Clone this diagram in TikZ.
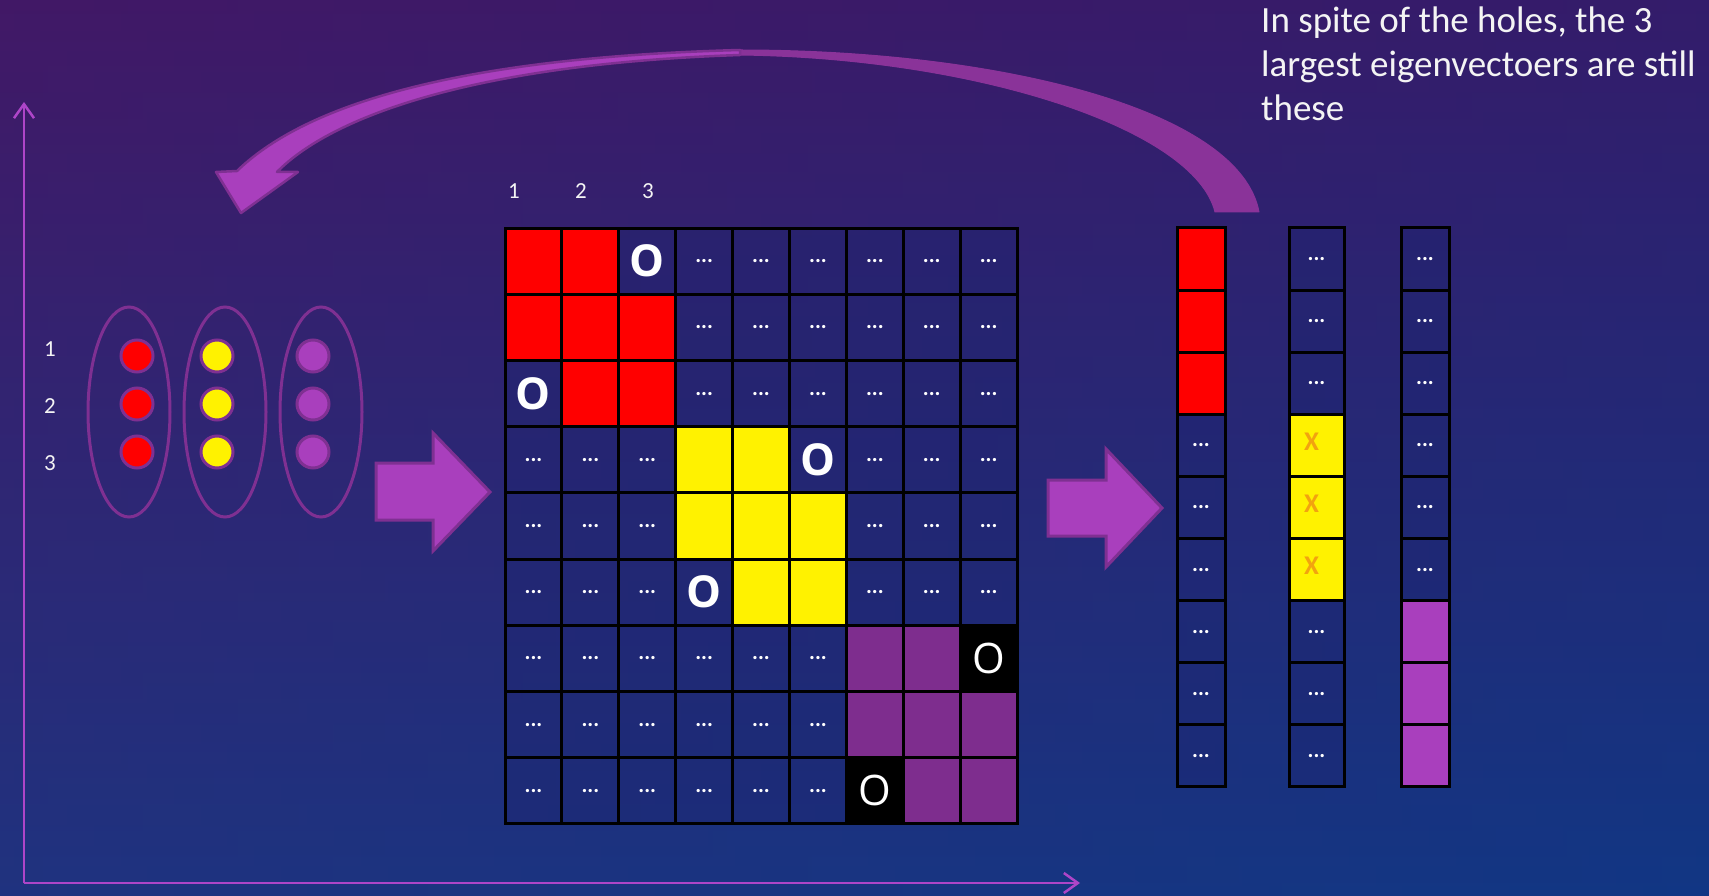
\documentclass[tikz,border=0pt]{standalone}
\usepackage{fontspec}
\setmainfont{Carlito}
\newfontfamily\ofont{Open Sans}
\newfontfamily\obfont{Open Sans Bold}
\usetikzlibrary{arrows.meta,shapes.geometric}
\definecolor{bgtop}{HTML}{3B1864}
\definecolor{bgmid}{HTML}{28236F}
\definecolor{bgbot}{HTML}{0F3A84}
\definecolor{bgleft}{HTML}{5A1A70}
\definecolor{bgright}{HTML}{1A2C84}
\definecolor{navyc}{HTML}{1C2470}
\definecolor{gpur}{HTML}{7E2D8E}
\definecolor{lpur}{HTML}{A93FBD}
\definecolor{dpur}{HTML}{7F3092}
\definecolor{backpur}{HTML}{8A3399}
\definecolor{axisc}{HTML}{AE45C8}
\definecolor{xorange}{HTML}{F2A30F}
\definecolor{txt}{HTML}{F4F4F4}
\begin{document}
\begin{tikzpicture}[x=1pt,y=-1pt,
  cell/.style={draw=black, line width=3pt, minimum width=56.9pt, minimum height=66.2pt, inner sep=0pt, text=white},
  vcell/.style={draw=black, line width=3pt, minimum height=62.1pt, inner sep=0pt, text=white},
  blue/.style={fill=navyc, fill opacity=0.4, text opacity=1},
  mred/.style={fill=red, node contents={}},
  myel/.style={fill=yellow, node contents={}},
  mpur/.style={fill=gpur, node contents={}},
  mlp/.style={fill=lpur, node contents={}},
  mdot/.style={blue, node contents={\fontsize{22}{22}\selectfont\bfseries ...}},
  mbo/.style={blue, node contents={\obfont\fontsize{44}{44}\selectfont O}},
  mko/.style={fill=black, node contents={\ofont\fontsize{42}{42}\selectfont O}},
  myx/.style={fill=yellow, node contents={\raisebox{8pt}{\hspace*{-10pt}\fontsize{27}{27}\selectfont\bfseries\color{xorange}X}}},
  lbl/.style={text=txt, inner sep=0pt},
  ring/.style={ellipse, draw=dpur, line width=3pt, minimum width=82pt, minimum height=210pt, inner sep=0pt},
  dot/.style={circle, draw=dpur, line width=3pt, minimum size=32pt, inner sep=0pt},
  blockarrow/.style={fill=lpur, draw=dpur, line width=3pt, line join=miter},
  axis/.style={draw=axisc, line width=2.5pt, -{Straight Barb[length=14pt,width=20pt,line width=2.5pt]}}
]
\useasboundingbox (0,0) rectangle (1709,896);
% background
\shade[top color=bgtop, middle color=bgmid, bottom color=bgbot] (0,0) rectangle (1709,896);
\shade[left color=bgleft, right color=bgright, opacity=0.22] (0,0) rectangle (1709,896);

% axes
\coordinate (origin) at (24,883);
\coordinate (ytop) at (24,102);
\coordinate (xend) at (1080,883);
\draw[axis] (origin) -- (ytop);
\draw[axis] (origin) -- (xend);

% curved arrow: back part (tail) and front part (head)
\filldraw[fill=backpur, draw=backpur, line width=1pt, line join=round]
  (740,50) .. controls (1000,50) and (1240,110) .. (1259,212) -- (1215,212)
  .. controls (1195,130) and (980,58) .. (740,55) -- cycle;
\filldraw[fill=lpur, draw=dpur, line width=2.5pt, line join=round]
  (237,171) -- (216,172) -- (241,213) -- (298,172) -- (277,172)
  .. controls (330,118) and (470,64) .. (740,55) -- (740,50)
  .. controls (440,58) and (300,110) .. (237,171) -- cycle;

% text
\begin{scope}[every node/.style={lbl, anchor=base west, font=\fontsize{37}{44}\selectfont}]
\node (t1) at (1261,33) {In spite of the holes, the 3};
\node (t2) at (1261,77) {largest eigenvectoers are still};
\node (t3) at (1261,121) {these};
\end{scope}

% numbers
\begin{scope}[every node/.style={lbl, font=\fontsize{23}{23}\selectfont}]
\node (n1) at (50,349) {1};
\node (n2) at (50,406) {2};
\node (n3) at (50,463) {3};
\node (k1) at (514,191) {1};
\node (k2) at (581,191) {2};
\node (k3) at (648,191) {3};
\end{scope}

% ellipses with points
\node[ring] (e1) at (129,412) {};
\node[ring] (e2) at (225,412) {};
\node[ring] (e3) at (321,412) {};
\foreach \yy [count=\i] in {356,404,452} {
  \node[dot, fill=red] (pr\i) at (137,\yy) {};
  \node[dot, fill=yellow] (py\i) at (217,\yy) {};
  \node[dot, fill=lpur] (pp\i) at (313,\yy) {};
}

% block arrows
\filldraw[blockarrow] (376,463) -- (433,463) -- (433,433) -- (490,492) -- (433,551) -- (433,520) -- (376,520) -- cycle;
\filldraw[blockarrow] (1048,480) -- (1106,480) -- (1106,449) -- (1162,508) -- (1106,567) -- (1106,536) -- (1048,536) -- cycle;

% matrix
\foreach \row [count=\r from 0] in {
  {red,red,bo,dot,dot,dot,dot,dot,dot},
  {red,red,red,dot,dot,dot,dot,dot,dot},
  {bo,red,red,dot,dot,dot,dot,dot,dot},
  {dot,dot,dot,yel,yel,bo,dot,dot,dot},
  {dot,dot,dot,yel,yel,yel,dot,dot,dot},
  {dot,dot,dot,bo,yel,yel,dot,dot,dot},
  {dot,dot,dot,dot,dot,dot,pur,pur,ko},
  {dot,dot,dot,dot,dot,dot,pur,pur,pur},
  {dot,dot,dot,dot,dot,dot,ko,pur,pur}} {
  \foreach \t [count=\c from 0] in \row {
    \path ({505+(\c+0.5)*56.9},{228+(\r+0.5)*66.22}) node[cell, name=g-\r-\c, m\t];
  }
}

% eigenvectors
\foreach \t [count=\r from 0] in {red,red,red,dot,dot,dot,dot,dot,dot} {
  \path (1201,{228+(\r+0.5)*62.1}) node[vcell, minimum width=48pt, name=va-\r, m\t];
}
\foreach \t [count=\r from 0] in {dot,dot,dot,yx,yx,yx,dot,dot,dot} {
  \path (1316.5,{228+(\r+0.5)*62.1}) node[vcell, minimum width=55pt, name=vb-\r, m\t];
}
\foreach \t [count=\r from 0] in {dot,dot,dot,dot,dot,dot,lp,lp,lp} {
  \path (1425,{228+(\r+0.5)*62.1}) node[vcell, minimum width=48pt, name=vc-\r, m\t];
}
\end{tikzpicture}
\end{document}
